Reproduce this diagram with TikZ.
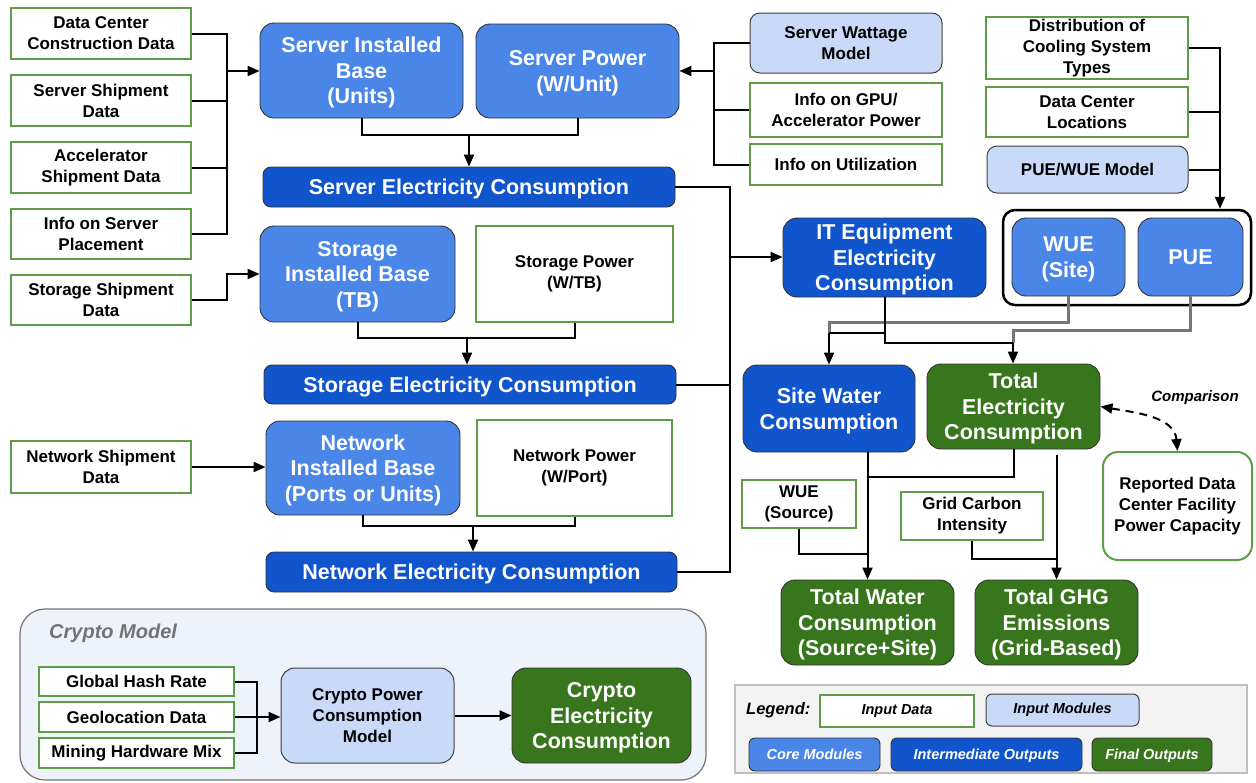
\documentclass[tikz,border=0pt]{standalone}
\usepackage{fontspec}
\setmainfont{Liberation Sans}
\usetikzlibrary{arrows.meta}
\definecolor{coreblue}{HTML}{4A86E8}
\definecolor{interblue}{HTML}{1155CC}
\definecolor{fgreen}{HTML}{38761D}
\definecolor{lblue}{HTML}{C9DAF8}
\definecolor{ingreen}{HTML}{5E9C48}
\definecolor{cryptobg}{HTML}{EEF2FA}
\definecolor{legbg}{HTML}{F3F3F3}
\definecolor{gline}{HTML}{777777}
\newcommand\fcore{\bfseries\fontsize{21.5}{25.5}\selectfont}
\newcommand\fin{\bfseries\fontsize{17}{21}\selectfont}
\newcommand\fleg{\bfseries\itshape\fontsize{14.5}{17}\selectfont}
\begin{document}
\begin{tikzpicture}[x=1pt,y=-1pt,
  bx/.style n args={4}{minimum width={(#3-#1)*1pt}, minimum height={(#4-#2)*1pt}, at={({(#1+#3)/2},{(#2+#4)/2})}},
  box/.style={inner sep=0pt, align=center, anchor=center},
  big/.style={box, font=\fcore, text=white, draw=black!80, line width=0.9pt, text depth=0pt},
  core/.style={big, fill=coreblue, rounded corners=14pt},
  inter/.style={big, fill=interblue, rounded corners=8pt},
  final/.style={big, fill=fgreen, rounded corners=14pt},
  indata/.style={box, font=\fin, fill=white, draw=ingreen, line width=2pt},
  inmod/.style={box, font=\fin, fill=lblue, draw=black!75, line width=1pt, rounded corners=10pt},
  conn/.style={draw=black, line width=2pt},
  arr/.style={conn, -{Triangle[length=12pt,width=10pt]}},
  gconn/.style={draw=gline, line width=3pt},
  dasharr/.style={draw=black, line width=2pt, dash pattern=on 8pt off 6pt, {Triangle[length=12pt,width=10pt]}-{Triangle[length=12pt,width=10pt]}}
]
\useasboundingbox (0,0) rectangle (1256,782);

% backgrounds
\node[box, bx={20}{609}{706}{780}, fill=cryptobg, draw=black!55, line width=1.2pt, rounded corners=25pt] (cgrp) {};
\node[box, bx={735}{685}{1247}{773}, fill=legbg, draw=black!25, line width=1.2pt] (leg) {};
\node[box, bx={1003}{210}{1251}{305}, fill=white, draw=black, line width=2.5pt, rounded corners=12pt] (grp) {};

% left inputs
\node[indata, bx={11}{8}{191}{59}] (dcc) {Data Center\\Construction Data};
\node[indata, bx={11}{75}{191}{126}] (ssd) {Server Shipment\\Data};
\node[indata, bx={11}{142}{191}{193}] (asd) {Accelerator\\Shipment Data};
\node[indata, bx={11}{209}{191}{259}] (isp) {Info on Server\\Placement};
\node[indata, bx={11}{275}{191}{325}] (std) {Storage Shipment\\Data};
\node[indata, bx={11}{441}{191}{493}] (nsd) {Network Shipment\\Data};

% core modules
\node[core, bx={260}{23}{463}{118}] (sib) {Server Installed\\Base\\(Units)};
\node[core, bx={476}{24}{679}{118}] (sp) {Server Power\\(W/Unit)};
\node[core, bx={260}{226}{455}{322}] (stib) {Storage\\Installed Base\\(TB)};
\node[core, bx={266}{421}{460}{515}] (nib) {Network\\Installed Base\\(Ports or Units)};
\node[core, bx={1012}{218}{1125}{296}] (wues) {WUE\\(Site)};
\node[core, bx={1138}{218}{1243}{296}] (pue) {PUE};

% input data (middle/right)
\node[indata, bx={476}{226}{673}{322}] (stp) {Storage Power\\(W/TB)};
\node[indata, bx={477}{420}{672}{516}] (np) {Network Power\\(W/Port)};
\node[indata, bx={750}{83}{942}{137}] (gpu) {Info on GPU/\\Accelerator Power};
\node[indata, bx={750}{144}{942}{185}] (util) {Info on Utilization};
\node[indata, bx={986}{17}{1188}{79}] (dist) {Distribution of\\Cooling System\\Types};
\node[indata, bx={986}{87}{1188}{137}] (dcl) {Data Center\\Locations};
\node[indata, bx={742}{480}{856}{528}] (wsrc) {WUE\\(Source)};
\node[indata, bx={901}{492}{1043}{540}] (gci) {Grid Carbon\\Intensity};
\node[indata, bx={1103}{452}{1252}{560}, rounded corners=15pt] (rep) {Reported Data\\Center Facility\\Power Capacity};
\node[indata, bx={39}{667}{234}{696}] (ghr) {Global Hash Rate};
\node[indata, bx={39}{702}{234}{732}] (geo) {Geolocation Data};
\node[indata, bx={39}{738}{234}{768}] (mhm) {Mining Hardware Mix};

% input modules
\node[inmod, bx={750}{13}{942}{73}] (swm) {Server Wattage\\Model};
\node[inmod, bx={987}{146}{1188}{193}] (pwm) {PUE/WUE Model};
\node[inmod, bx={281}{668}{454}{763}, rounded corners=14pt] (cpm) {Crypto Power\\Consumption\\Model};

% intermediate outputs
\node[inter, bx={263}{167}{675}{207}] (se) {Server Electricity Consumption};
\node[inter, bx={264}{365}{676}{404}] (stel) {Storage Electricity Consumption};
\node[inter, bx={266}{552}{677}{592}] (nel) {Network Electricity Consumption};
\node[inter, bx={783}{218}{986}{297}, rounded corners=14pt] (it) {IT Equipment\\Electricity\\Consumption};
\node[inter, bx={743}{365}{915}{452}, rounded corners=14pt] (sw) {Site Water\\Consumption};

% final outputs
\node[final, bx={927}{364}{1100}{449}] (te) {Total\\Electricity\\Consumption};
\node[final, bx={781}{580}{954}{665}] (tw) {Total Water\\Consumption\\(Source+Site)};
\node[final, bx={975}{580}{1138}{665}] (tg) {Total GHG\\Emissions\\(Grid-Based)};
\node[final, bx={512}{668}{691}{763}] (cec) {Crypto\\Electricity\\Consumption};

% labels
\node[anchor=west, inner sep=0pt, font=\bfseries\itshape\fontsize{20}{24}\selectfont, text=black!55] (cml) at (49,633) {Crypto Model};
\node[anchor=west, inner sep=0pt, font=\bfseries\itshape\fontsize{16.5}{19}\selectfont] (legl) at (746,710) {Legend:};
\node[inner sep=0pt, font=\bfseries\itshape\fontsize{15}{18}\selectfont] (cmp) at (1195,398) {Comparison};

% legend entries
\node[indata, font=\fleg, bx={820}{695}{974}{727}] (lin) {Input Data};
\node[inmod, font=\fleg, bx={986}{694}{1139}{726}, rounded corners=6pt] (lim) {Input Modules};
\node[core, font=\fleg, bx={749}{738}{880}{771}, rounded corners=6pt] (lcm) {Core Modules};
\node[inter, font=\fleg, bx={891}{738}{1082}{771}, rounded corners=6pt] (lio) {Intermediate Outputs};
\node[final, font=\fleg, bx={1092}{738}{1212}{771}, rounded corners=6pt] (lfo) {Final Outputs};

% coordinates
\coordinate (busL) at (227,71);
\coordinate (busS) at (714,71);
\coordinate (busR) at (730,257);
\coordinate (tx) at (1220,0);
\coordinate (m1) at (469,135);
\coordinate (m2) at (467,338);
\coordinate (m3) at (473,527);
\coordinate (gw) at (829,322);
\coordinate (wj) at (829,333);
\coordinate (gp) at (1013,330);
\coordinate (ej) at (1013,343);
\coordinate (tj) at (867.5,477);
\coordinate (tj2) at (867.5,554);
\coordinate (gj) at (1056.5,559);
\coordinate (cb) at (257,717);

% left bus
\draw[conn] (dcc.east) -| (busL);
\draw[conn] (ssd.east) -| (busL);
\draw[conn] (asd.east) -| (busL);
\draw[conn] (isp.east) -| (busL);
\draw[arr] (busL) -- (busL -| sib.west);
\draw[arr] (std.east) -- ++(35,0) |- (stib.west);
\draw[arr] (nsd.east) -- (nsd.east -| nib.west);

% server power inputs
\draw[conn] (swm.west) -| (busS);
\draw[conn] (gpu.west) -| (busS);
\draw[conn] (util.west) -| (busS);
\draw[arr] (busS) -- (busS -| sp.east);

% merges
\draw[conn] (sib.south) -- ++(0,17) -| (sp.south);
\draw[arr] (m1) -- (m1 |- se.north);
\draw[conn] (stib.south) -- ++(0,16) -| (stp.south);
\draw[arr] (m2) -- (m2 |- stel.north);
\draw[conn] (nib.south) -- ++(0,11) -| (np.south);
\draw[arr] (m3) -- (m3 |- nel.north);

% right bus
\draw[conn] (se.east) -| (busR);
\draw[conn] (stel.east) -| (busR);
\draw[conn] (nel.east) -| (busR);
\draw[arr] (busR) -- (busR -| it.west);

% top right inputs
\draw[arr] (dist.east) -| (tx |- grp.north);
\draw[conn] (dcl.east) -- (dcl.east -| tx);
\draw[conn] (pwm.east) -- (pwm.east -| tx);

% IT to outputs
\draw[gconn] (wues.south) |- (gw) -- (wj);
\draw[gconn] (pue.south) |- (gp) -- (ej);
\draw[conn] (it.south) |- (ej);
\draw[conn] (it.south |- wj) -- (wj);
\draw[arr] (wj) -- (wj |- sw.north);
\draw[arr] (ej) -- (ej |- te.north);

% lower
\draw[arr] (sw.south -| tw.north) -- (tw.north);
\draw[conn] (te.south) |- (tj);
\draw[conn] (wsrc.south) |- (tj2);
\draw[arr, shorten <=6pt] (te.south -| tg.north) -- (tg.north);
\draw[conn] (gci.south) |- (gj);
\draw[dasharr] (te.east) to[out=-10, in=95] (rep.north);

% crypto
\draw[conn] (ghr.east) -| (cb);
\draw[conn] (geo.east) -- (cb);
\draw[conn] (mhm.east) -| (cb);
\draw[arr] (cb) -- (cb -| cpm.west);
\draw[arr] (cpm.east) -- (cec.west);
\end{tikzpicture}
\end{document}
